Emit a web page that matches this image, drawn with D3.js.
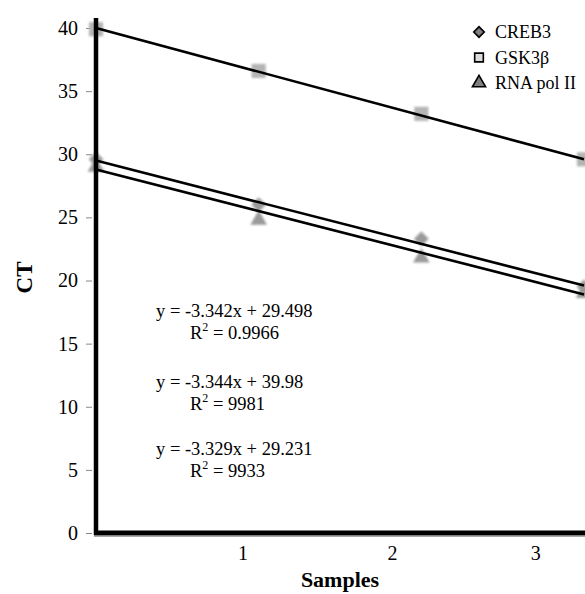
<!DOCTYPE html>
<html>
<head>
<meta charset="utf-8">
<script src="https://cdn.jsdelivr.net/npm/d3@7"></script>
<style>
  body { margin: 0; background: #fff; }
  text { font-family: "Liberation Serif", "Times New Roman", serif; fill: #000; }
</style>
</head>
<body>
<div id="chart"></div>
<script>
// sample positions on the x axis
let samples = [0, 1, 2, 3];
// Ct values
let creb3 = [29.6, 26.0, 23.3, 19.5];
let gsk3b = [39.9, 36.6, 33.2, 29.6];
let rnaPol = [29.0, 24.8, 21.8, 19.0];
// trend line end values (x = 0 and x = 3)
let crebFit = [29.5, 19.6];
let gskFit = [40.0, 29.6];
let rnaFit = [28.8, 18.9];
// axis ticks
let yTicks = [0, 5, 10, 15, 20, 25, 30, 35, 40];
let xTickPos = [0.9, 1.82, 2.7];
let xTickLabels = ["1", "2", "3"];
let seriesNames = ["CREB3", "GSK3β", "RNA pol II"];
let equations = [
    ["y = -3.342x + 29.498", "0.9966"],
    ["y = -3.344x + 39.98", "9981"],
    ["y = -3.329x + 29.231", "9933"]
];

let fullWidth = 585, fullHeight = 594;
let margin = { top: 28, right: 1, bottom: 61, left: 96 };

let svg = d3.select("#chart")
    .append("svg")
    .attr("width", fullWidth)
    .attr("height", fullHeight);

let x = d3.scaleLinear()
    .domain([0, 3])
    .range([margin.left, 584]);

let y = d3.scaleLinear()
    .domain([0, 40])
    .range([fullHeight - margin.bottom, margin.top]);

// soft edges like the scanned markers
let defs = svg.append("defs");
defs.append("filter")
    .attr("id", "soft")
    .append("feGaussianBlur")
    .attr("stdDeviation", 0.9);

// y axis tick labels and little tick marks
let yAxis = svg.append("g")
    .attr("transform", `translate(${margin.left - 4},0)`)
    .call(d3.axisLeft(y).tickValues(yTicks).tickSize(6).tickPadding(8));
yAxis.select(".domain").remove();
yAxis.selectAll("line").style("stroke", "#888").style("stroke-width", 1);
yAxis.selectAll("text")
    .style("font-family", "Liberation Serif")
    .style("font-size", "20px")
    .style("fill", "#000");

// x axis labels only
let xAxis = svg.append("g")
    .attr("transform", `translate(0,${y(0) + 8})`)
    .call(d3.axisBottom(x).tickValues(xTickPos).tickFormat((d, i) => xTickLabels[i]).tickSize(0).tickPadding(5));
xAxis.select(".domain").remove();
xAxis.selectAll("text")
    .style("font-family", "Liberation Serif")
    .style("font-size", "20px")
    .style("fill", "#000");

// markers (diamond = square turned 45 degrees)
let plotSeries = [
    { vals: creb3, type: d3.symbolSquare, rot: 45, size: 110, fill: "#9a9a9a" },
    { vals: rnaPol, type: d3.symbolTriangle, rot: 0, size: 120, fill: "#9a9a9a" },
    { vals: gsk3b, type: d3.symbolSquare, rot: 0, size: 200, fill: "#b4b4b4" }
];
plotSeries.forEach(s => {
    svg.append("g")
        .selectAll("path")
        .data(samples)
        .enter()
        .append("path")
        .attr("d", d3.symbol().type(s.type).size(s.size))
        .attr("transform", (d, i) => `translate(${x(d)},${y(s.vals[i])}) rotate(${s.rot})`)
        .attr("fill", s.fill)
        .attr("filter", "url(#soft)");
});

// trend lines
[crebFit, gskFit, rnaFit].forEach(f => {
    svg.append("line")
        .attr("x1", x(0))
        .attr("y1", y(f[0]))
        .attr("x2", x(3))
        .attr("y2", y(f[1]))
        .style("stroke", "#000")
        .style("stroke-width", 2.6);
});

// thick axis frame
svg.append("line")
    .attr("x1", margin.left)
    .attr("x2", margin.left)
    .attr("y1", 18)
    .attr("y2", y(0) + 2)
    .style("stroke", "#000")
    .style("stroke-width", 4.5);
svg.append("line")
    .attr("x1", margin.left - 2)
    .attr("x2", fullWidth)
    .attr("y1", y(0))
    .attr("y2", y(0))
    .style("stroke", "#000")
    .style("stroke-width", 5);
svg.append("line")
    .attr("x1", margin.left - 2)
    .attr("x2", fullWidth)
    .attr("y1", y(0) + 3.5)
    .attr("y2", y(0) + 3.5)
    .style("stroke", "#aaa")
    .style("stroke-width", 1);

// equations
let eqBase = [317, 388, 455];
let eqGroup = svg.append("g");
equations.forEach((e, i) => {
    eqGroup.append("text")
        .attr("x", 156)
        .attr("y", eqBase[i])
        .style("font-size", "18.5px")
        .text(e[0]);
    let r = eqGroup.append("text")
        .attr("x", 190)
        .attr("y", eqBase[i] + 22)
        .style("font-size", "18.5px");
    r.append("tspan").text("R");
    r.append("tspan").attr("dy", -8).style("font-size", "12px").text("2");
    r.append("tspan").attr("dy", 8).text(" = " + e[1]);
});

// legend
let legendSymbols = [
    { type: d3.symbolSquare, rot: 45, size: 55, fill: "#808080" },
    { type: d3.symbolSquare, rot: 0, size: 75, fill: "#dcdcdc" },
    { type: d3.symbolTriangle, rot: 0, size: 75, fill: "#808080" }
];
let legend = svg.append("g");
seriesNames.forEach((name, i) => {
    let ly = 32 + i * 25.5;
    legend.append("path")
        .attr("d", d3.symbol().type(legendSymbols[i].type).size(legendSymbols[i].size))
        .attr("transform", `translate(479,${ly}) rotate(${legendSymbols[i].rot})`)
        .attr("fill", legendSymbols[i].fill)
        .attr("stroke", "#000")
        .attr("stroke-width", 1.6);
    legend.append("text")
        .attr("x", 495)
        .attr("y", ly + 6)
        .style("font-size", "18px")
        .text(name);
});

// axis titles
svg.append("text")
    .attr("transform", `translate(32,${y(20) - 3}) rotate(-90)`)
    .attr("text-anchor", "middle")
    .style("font-size", "23px")
    .style("font-weight", "bold")
    .text("CT");

svg.append("text")
    .attr("x", 340)
    .attr("y", 587)
    .attr("text-anchor", "middle")
    .style("font-size", "22px")
    .style("font-weight", "bold")
    .text("Samples");
</script>
</body>
</html>
